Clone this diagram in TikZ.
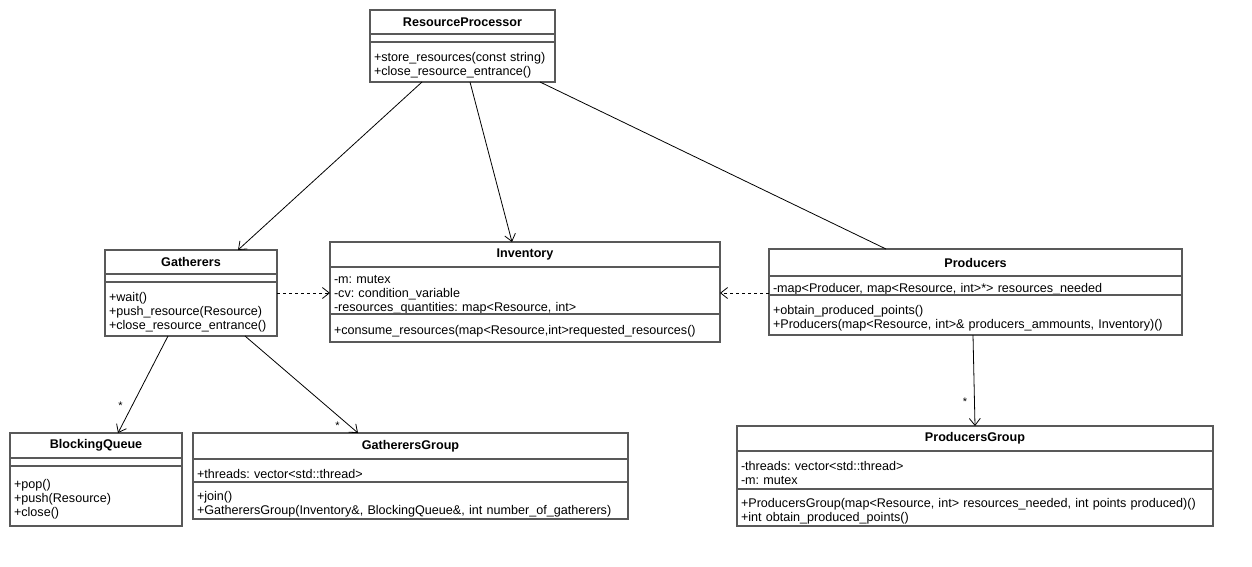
\documentclass[tikz,border=0pt]{standalone}
\usepackage{fontspec}
\setmainfont{Liberation Sans}
\usetikzlibrary{positioning,arrows.meta}
\definecolor{boxline}{HTML}{595959}
\frenchspacing
\begin{document}
\begin{tikzpicture}[x=1pt,y=-1pt,
    font=\fontsize{12.6}{14}\selectfont,
    class head/.style={draw=boxline,line width=1.2pt,fill=white,inner sep=0pt,outer sep=0pt,
        anchor=north west,font=\fontsize{12.6}{14}\selectfont\bfseries},
    class empty/.style={draw=boxline,line width=1.2pt,fill=white,inner xsep=4pt,inner ysep=0pt,
        outer sep=0pt,align=left},
    class part/.style={class empty,
        execute at begin node={\hyphenpenalty=10000\noindent\rule{0pt}{16pt}}},
    assoc/.style={-{Straight Barb[length=7pt,width=11pt]},line width=0.8pt},
    link/.style={line width=0.8pt},
    dep/.style={assoc,dash pattern=on 3pt off 3pt},
    mult/.style={font=\fontsize{11}{12}\selectfont,inner sep=1pt}]

    \useasboundingbox (0,0) rectangle (1252,566);

    % Define classes
    \node[class head, minimum width=185pt, minimum height=24pt] (rp) at (370,10) {ResourceProcessor};
    \node[class empty, below=0pt of rp, text width=177pt, minimum height=8pt] (rp-a) {};
    \node[class part, below=0pt of rp-a, text width=177pt, minimum height=40pt] (rp-m)
        {+store\_resources(const string)\\+close\_resource\_entrance()};

    \node[class head, minimum width=172pt, minimum height=24pt] (gath) at (105,250) {Gatherers};
    \node[class empty, below=0pt of gath, text width=164pt, minimum height=8pt] (gath-a) {};
    \node[class part, below=0pt of gath-a, text width=164pt, minimum height=54pt] (gath-m)
        {+wait()\\+push\_resource(Resource)\\+close\_resource\_entrance()};

    \node[class head, minimum width=390pt, minimum height=25pt] (inv) at (330,242) {Inventory};
    \node[class part, below=0pt of inv, text width=382pt, minimum height=47pt] (inv-a)
        {-m: mutex\\-cv: condition\_variable\\-resources\_quantities: map<Resource, int>};
    \node[class part, below=0pt of inv-a, text width=382pt, minimum height=28pt] (inv-m)
        {+consume\_resources(map<Resource,int>requested\_resources()};

    \node[class head, minimum width=413pt, minimum height=27pt] (prod) at (769,249) {Producers};
    \node[class part, below=0pt of prod, text width=405pt, minimum height=19pt] (prod-a)
        {-map<Producer, map<Resource, int>*> resources\_needed};
    \node[class part, below=0pt of prod-a, text width=405pt, minimum height=40pt] (prod-m)
        {+obtain\_produced\_points()\\+Producers(map<Resource, int>\& producers\_ammounts, Inventory)()};

    \node[class head, minimum width=172pt, minimum height=25pt] (bq) at (10,433) {BlockingQueue};
    \node[class empty, below=0pt of bq, text width=164pt, minimum height=8pt] (bq-a) {};
    \node[class part, below=0pt of bq-a, text width=164pt, minimum height=60pt] (bq-m)
        {+pop()\\+push(Resource)\\+close()};

    \node[class head, minimum width=435pt, minimum height=26pt] (gg) at (193,433) {GatherersGroup};
    \node[class part, below=0pt of gg, text width=427pt, minimum height=23pt] (gg-a)
        {+threads: vector<std::thread>};
    \node[class part, below=0pt of gg-a, text width=427pt, minimum height=37pt] (gg-m)
        {+join()\\+GatherersGroup(Inventory\&, BlockingQueue\&, int number\_of\_gatherers)};

    \node[class head, minimum width=476pt, minimum height=25pt] (pg) at (737,426) {ProducersGroup};
    \node[class part, below=0pt of pg, text width=468pt, minimum height=38pt] (pg-a)
        {-threads: vector<std::thread>\\-m: mutex};
    \node[class part, below=0pt of pg-a, text width=468pt, minimum height=37pt] (pg-m)
        {+ProducersGroup(map<Resource, int> resources\_needed, int points produced)()\\+int obtain\_produced\_points()};

    % Draw associations
    \path
        ([xshift=52pt]rp-m.south west) edge[assoc] ([xshift=133pt]gath.north west)
        ([xshift=100pt]rp-m.south west) edge[assoc] ([xshift=182pt]inv.north west)
        ([xshift=170pt]rp-m.south west) edge[link] ([xshift=117pt]prod.north west)
        ([yshift=16pt]gath-m.east) edge[dep] ([yshift=-2.5pt]inv-a.west)
        ([yshift=-7.5pt]prod-a.west) edge[dep] ([yshift=-2.5pt]inv-a.east)
        ([xshift=63pt]gath-m.south west) edge[assoc] node[mult, pos=0.72, left=8pt] {*} ([xshift=108pt]bq.north west)
        ([xshift=140pt]gath-m.south west) edge[assoc] node[mult, pos=0.92, left=8pt] {*} ([xshift=165pt]gg.north west)
        ([xshift=204pt]prod-m.south west) edge[assoc] node[mult, pos=0.73, left=6pt] {*} ([xshift=238pt]pg.north west);

\end{tikzpicture}
\end{document}
